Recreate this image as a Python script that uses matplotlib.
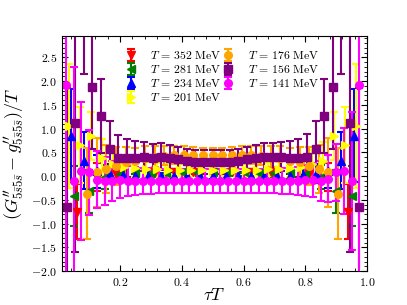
import numpy as np
import matplotlib
matplotlib.use("Agg")
import matplotlib.pyplot as plt
from matplotlib.ticker import MultipleLocator, AutoMinorLocator, FuncFormatter

plt.rcParams['mathtext.fontset'] = 'cm'
plt.rcParams['font.family'] = ['DejaVu Serif']

# ---- data ----
labels = ["$T\\,=\\,352\\ \\mathrm{MeV}$", "$T\\,=\\,281\\ \\mathrm{MeV}$", "$T\\,=\\,234\\ \\mathrm{MeV}$",
          "$T\\,=\\,201\\ \\mathrm{MeV}$", "$T\\,=\\,176\\ \\mathrm{MeV}$", "$T\\,=\\,156\\ \\mathrm{MeV}$",
          "$T\\,=\\,141\\ \\mathrm{MeV}$"]
ntau = [16, 20, 24, 28, 32, 36, 40]
kstart = [1, 1, 1, 1, 3, 1, 1]

red_v = [-0.75, -0.02, 0.04, 0.07, 0.08, 0.08, 0.09, 0.09, 0.09, 0.08, 0.08, 0.07, 0.04, -0.02, -0.75]
red_e = [0.58, 0.30, 0.15, 0.10, 0.08, 0.07, 0.07, 0.07, 0.07, 0.07, 0.08, 0.10, 0.15, 0.30, 0.58]

green_v = [-0.42, -0.32, -0.02, 0.04, 0.06, 0.07, 0.07, 0.08, 0.08, 0.08, 0.08, 0.08, 0.07, 0.07,
           0.06, 0.04, -0.02, -0.32, -0.42]
green_e = [0.64, 0.45, 0.25, 0.15, 0.10, 0.08, 0.07, 0.07, 0.07, 0.07, 0.07, 0.07, 0.07, 0.08,
           0.10, 0.15, 0.25, 0.45, 0.64]

blue_v = [0.85, 0.32, 0.10, 0.05, 0.02, 0.00, 0.00, 0.00, 0.01, 0.01, 0.01, 0.01, 0.01, 0.01,
          0.01, 0.00, 0.00, 0.00, 0.02, 0.05, 0.10, 0.32, 0.85]
blue_e = [0.98, 0.60, 0.35, 0.20, 0.14, 0.10, 0.08, 0.07, 0.07, 0.07, 0.07, 0.07, 0.07, 0.07,
          0.07, 0.07, 0.08, 0.10, 0.14, 0.20, 0.35, 0.60, 0.98]

yellow_v = [1.05, 0.65, 0.84, 0.38, 0.25, 0.20, 0.17, 0.15, 0.14, 0.13, 0.13, 0.12, 0.12, 0.12,
            0.12, 0.12, 0.13, 0.13, 0.14, 0.15, 0.17, 0.20, 0.25, 0.32, 0.84, 0.65, 1.05]
yellow_e = [1.30, 0.80, 0.50, 0.40, 0.30, 0.22, 0.18, 0.15, 0.13, 0.12, 0.12, 0.11, 0.11, 0.11,
            0.11, 0.11, 0.12, 0.12, 0.13, 0.15, 0.18, 0.22, 0.30, 0.40, 0.50, 0.80, 1.30]

orange_v = [-0.37, 0.08, 0.15, 0.22, 0.29, 0.32, 0.38, 0.41, 0.43, 0.44, 0.45, 0.45, 0.44, 0.44,
            0.44, 0.45, 0.45, 0.44, 0.43, 0.41, 0.38, 0.32, 0.29, 0.22, 0.15, 0.08, -0.37]
orange_e = [0.96, 0.72, 0.50, 0.40, 0.33, 0.28, 0.25, 0.22, 0.20, 0.19, 0.18, 0.17, 0.16, 0.16,
            0.16, 0.17, 0.18, 0.19, 0.20, 0.22, 0.25, 0.28, 0.33, 0.40, 0.50, 0.72, 0.96]

purple_v = [-0.65, 1.11, 3.60, 1.88, 1.27, 0.57, 0.39, 0.38, 0.39, 0.41, 0.39, 0.41, 0.39, 0.36,
            0.32, 0.29, 0.29, 0.29, 0.29, 0.29, 0.32, 0.36, 0.38, 0.41, 0.41, 0.41, 0.39, 0.39,
            0.41, 0.57, 1.27, 1.88, 3.60, 1.11, -0.65]
purple_e = [2.50, 2.70, 1.45, 1.30, 0.78, 0.59, 0.48, 0.40, 0.35, 0.31, 0.29, 0.28, 0.27, 0.26,
            0.25, 0.25, 0.25, 0.25, 0.25, 0.25, 0.25, 0.26, 0.27, 0.28, 0.29, 0.31, 0.35, 0.40,
            0.48, 0.59, 0.78, 1.30, 1.45, 2.70, 2.50]

magenta_v = [1.91, -0.10, 0.11, 0.08, -0.08, -0.10, -0.10, -0.09, -0.10, -0.10, -0.10, -0.10,
             -0.10, -0.10, -0.10, -0.10, -0.10, -0.10, -0.10, -0.10, -0.10, -0.10, -0.10, -0.10,
             -0.10, -0.10, -0.10, -0.10, -0.10, -0.10, -0.10, -0.09, -0.08, -0.10, -0.05, 0.08,
             0.11, -0.10, 1.91]
magenta_e = [4.50, 2.40, 1.45, 0.90, 0.60, 0.50, 0.42, 0.36, 0.32, 0.30, 0.28, 0.27, 0.26, 0.26,
             0.25, 0.25, 0.25, 0.25, 0.25, 0.25, 0.25, 0.25, 0.25, 0.25, 0.25, 0.25, 0.26, 0.26,
             0.27, 0.28, 0.30, 0.32, 0.36, 0.42, 0.50, 0.60, 0.90, 1.45, 4.50]

values = [red_v, green_v, blue_v, yellow_v, orange_v, purple_v, magenta_v]
errors = [red_e, green_e, blue_e, yellow_e, orange_e, purple_e, magenta_e]
colors = ['#ff0000', '#008000', '#0000ff', '#ffff00', '#ffa500', '#800080', '#ff00ff']
markers = ['v', '<', '^', '>', 'o', 's', 'o']

fig = plt.figure(figsize=(4.07, 3.05), dpi=100)
ax = fig.add_axes([0.152, 0.111, 0.750, 0.771])

for v, e, c, m, lab, nt, k0 in zip(values, errors, colors, markers, labels, ntau, kstart):
    k = np.arange(k0, k0 + len(v))
    x = k / nt
    ax.errorbar(x, v, yerr=e, fmt=m, color=c, ms=5.5, elinewidth=1.5, capsize=3,
                capthick=1.5, label=lab)

ax.set_xlim(0.012, 1.0)
ax.set_ylim(-2.0, 2.95)
ax.xaxis.set_major_locator(MultipleLocator(0.2))
ax.xaxis.set_minor_locator(AutoMinorLocator(5))
ax.yaxis.set_major_locator(MultipleLocator(0.5))
ax.yaxis.set_minor_locator(AutoMinorLocator(5))
ax.xaxis.set_major_formatter(FuncFormatter(lambda x, p: f'${x:.1f}$'))
ax.yaxis.set_major_formatter(FuncFormatter(lambda x, p: f'${x:.1f}$'))
ax.tick_params(which='both', direction='in', top=True, right=True, labelsize=8.5)
ax.tick_params(which='major', length=4)
ax.tick_params(which='minor', length=2)

ax.set_xlabel(r'$\tau T$', fontsize=13, labelpad=-2)
ax.set_ylabel(r'$(G^{\prime\prime}_{5\bar{s}5\bar{s}} - g^{\prime\prime}_{5\bar{s}5\bar{s}})/T$',
              fontsize=13, labelpad=4)

ax.legend(ncol=2, loc='upper left', bbox_to_anchor=(0.178, 0.975), frameon=False,
          fontsize=8.5, handlelength=1.3, columnspacing=-0.1, labelspacing=0.1,
          handletextpad=1.0, borderaxespad=0.2)

fig.savefig('out.png', dpi=100)
